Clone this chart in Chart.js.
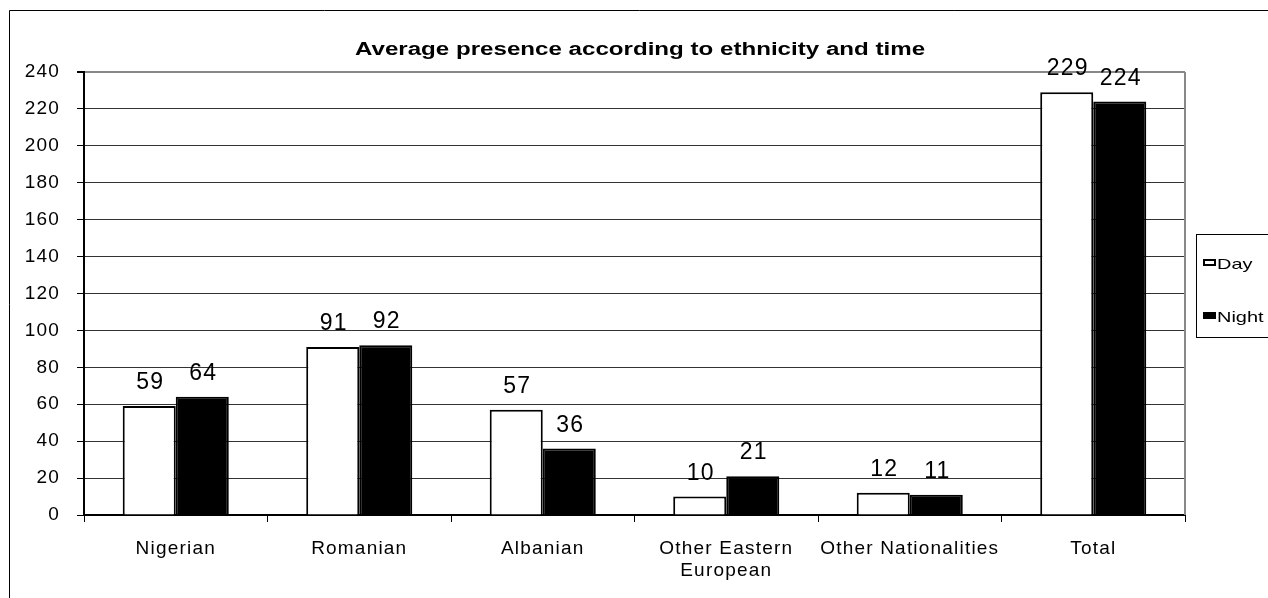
<!DOCTYPE html>
<html>
<head>
<meta charset="utf-8">
<title>Average presence according to ethnicity and time</title>
<script src="https://cdn.jsdelivr.net/npm/chart.js@4.4.0/dist/chart.umd.min.js"></script>
<style>
  html, body { margin: 0; padding: 0; background: #fff; }
  #wrap { position: relative; width: 1268px; height: 598px; overflow: hidden; }
  canvas { display: block; }
</style>
</head>
<body>
<div id="wrap"><canvas id="chart" width="1268" height="598"></canvas></div>
<script>
// Categories and series
const categories = ['Nigerian', 'Romanian', 'Albanian', ['Other Eastern', 'European'], 'Other Nationalities', 'Total'];
const dayValues = [59, 91, 57, 10, 12, 229];
const nightValues = [64, 92, 36, 21, 11, 224];
const seriesNames = ['Day', 'Night'];
const yTicks = [0, 20, 40, 60, 80, 100, 120, 140, 160, 180, 200, 220, 240];
const chartTitle = 'Average presence according to ethnicity and time';

const FONT = '"Liberation Sans", Arial, Helvetica, sans-serif';
const SPACING = '1.2px';

// Draws text widened horizontally by factor sx, anchored at (x, y)
function wideText(ctx, text, x, y, sx, align) {
  ctx.save();
  ctx.translate(x, y);
  ctx.scale(sx, 1);
  ctx.textAlign = align;
  ctx.fillText(text, 0, 0);
  ctx.restore();
}

// Frame around the whole figure, title and letter spacing
const framePlugin = {
  id: 'frame',
  beforeDraw(chart) {
    const ctx = chart.ctx;
    ctx.letterSpacing = SPACING;
    ctx.save();
    ctx.strokeStyle = '#000';
    ctx.lineWidth = 1;
    ctx.beginPath();
    ctx.moveTo(9.5, 600);
    ctx.lineTo(9.5, 10.5);
    ctx.lineTo(1270, 10.5);
    ctx.stroke();
    ctx.fillStyle = '#000';
    ctx.font = 'bold 18px ' + FONT;
    ctx.letterSpacing = '0px';
    ctx.textBaseline = 'alphabetic';
    wideText(ctx, chartTitle, 640, 55, 1.34, 'center');
    ctx.restore();
    ctx.letterSpacing = SPACING;
  },
  afterDatasetsDraw(chart) {
    // grey right edge of the plot area
    const a = chart.chartArea;
    const ctx = chart.ctx;
    ctx.save();
    ctx.strokeStyle = '#888';
    ctx.lineWidth = 2;
    ctx.beginPath();
    ctx.moveTo(Math.round(a.right), a.top);
    ctx.lineTo(Math.round(a.right), a.bottom);
    ctx.stroke();
    ctx.restore();
  }
};

// Value labels above each bar
const valueLabels = {
  id: 'valueLabels',
  afterDatasetsDraw(chart) {
    const ctx = chart.ctx;
    ctx.save();
    ctx.font = '23px ' + FONT;
    ctx.letterSpacing = SPACING;
    ctx.fillStyle = '#000';
    ctx.textAlign = 'center';
    ctx.textBaseline = 'alphabetic';
    chart.data.datasets.forEach((ds, i) => {
      chart.getDatasetMeta(i).data.forEach((bar, j) => {
        ctx.fillText(String(ds.data[j]), bar.x + 1, bar.y - 17);
      });
    });
    ctx.restore();
  }
};

// Boxed legend at the right
const boxLegend = {
  id: 'boxLegend',
  afterDraw(chart) {
    const ctx = chart.ctx;
    ctx.save();
    ctx.strokeStyle = '#000';
    ctx.lineWidth = 1;
    ctx.strokeRect(1196.5, 234.5, 120, 103);
    ctx.font = '15px ' + FONT;
    ctx.letterSpacing = '0px';
    ctx.textBaseline = 'alphabetic';
    const rows = [262, 315];
    chart.data.datasets.forEach((ds, i) => {
      const cy = rows[i];
      ctx.fillStyle = '#000';
      ctx.fillRect(1203, cy - 3, 13, 7);
      if (ds.backgroundColor !== '#000000') {
        ctx.fillStyle = ds.backgroundColor;
        ctx.fillRect(1205, cy - 1, 9, 3);
      }
      ctx.fillStyle = '#000';
      wideText(ctx, ds.label, 1217, cy + 7, 1.33, 'left');
    });
    ctx.restore();
  }
};

new Chart(document.getElementById('chart'), {
  type: 'bar',
  data: {
    labels: categories,
    datasets: [
      { label: seriesNames[0], data: dayValues, backgroundColor: '#ffffff', borderColor: '#000', borderWidth: 2 },
      { label: seriesNames[1], data: nightValues, backgroundColor: '#000000', borderColor: '#000', borderWidth: 2 }
    ]
  },
  options: {
    responsive: false,
    animation: false,
    layout: { padding: { top: 72, right: 83, left: 0, bottom: 0 } },
    datasets: { bar: { categoryPercentage: 0.578, barPercentage: 1.0 } },
    plugins: {
      legend: { display: false },
      title: { display: false },
      tooltip: { enabled: false }
    },
    scales: {
      x: {
        afterFit(scale) { scale.height = 83; },
        grid: { drawOnChartArea: false, drawTicks: true, tickLength: 7, color: '#000', offset: true },
        border: { color: '#000', width: 2 },
        ticks: { color: '#000', font: { family: FONT, size: 19 }, padding: 15, maxRotation: 0, autoSkip: false }
      },
      y: {
        min: 0,
        max: 240,
        afterFit(scale) { scale.width = 84; },
        afterBuildTicks(scale) { scale.ticks = yTicks.map(v => ({ value: v })); },
        grid: {
          color: c => (c.tick && c.tick.value === 240 ? '#888' : '#333'),
          tickColor: '#000',
          tickLength: 7,
          lineWidth: c => (c.tick && c.tick.value === 240 ? 2 : 1)
        },
        border: { color: '#000', width: 2 },
        ticks: { color: '#000', font: { family: FONT, size: 19 }, padding: 17, stepSize: 20 }
      }
    }
  },
  plugins: [framePlugin, valueLabels, boxLegend]
});
</script>
</body>
</html>
